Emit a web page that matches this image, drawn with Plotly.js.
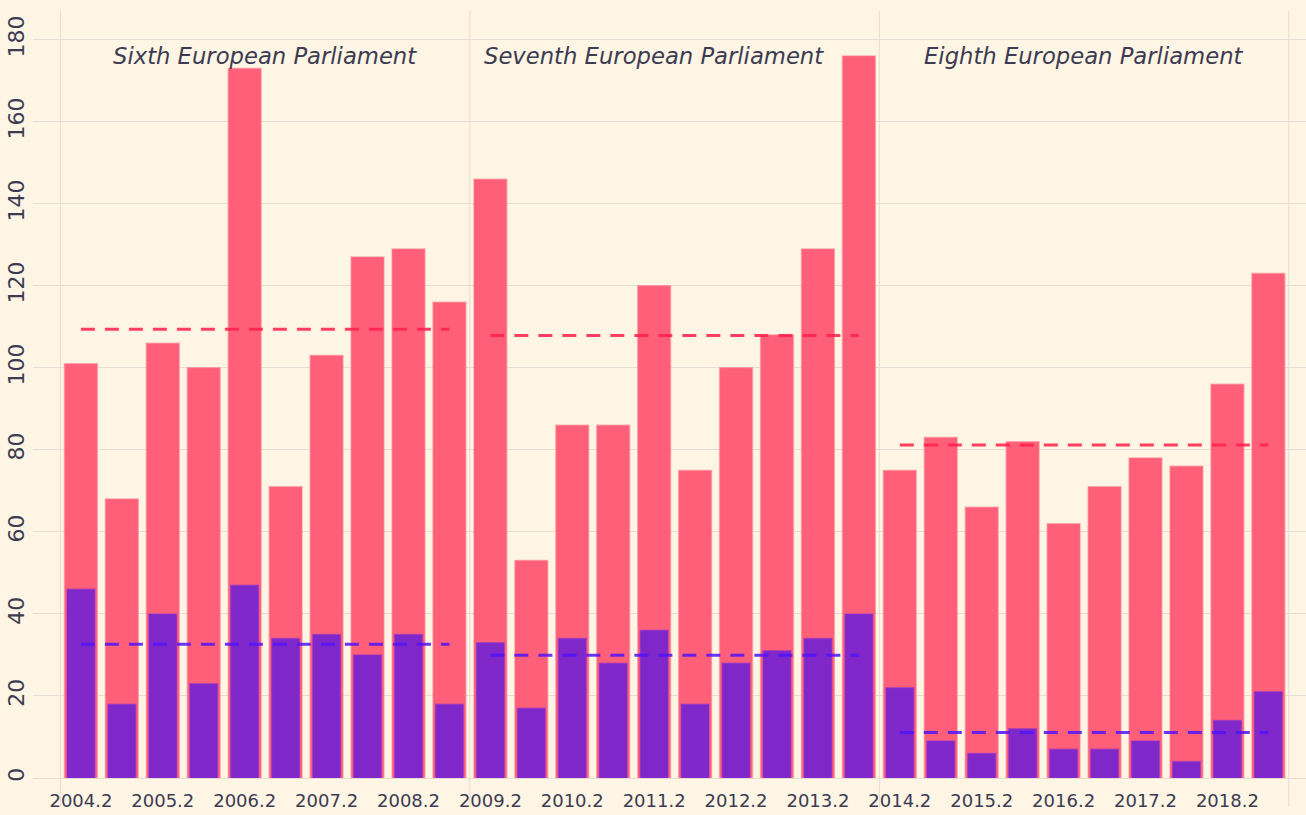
<!DOCTYPE html>
<html>
<head>
<meta charset="utf-8">
<script src="https://cdn.plot.ly/plotly-3.0.1.min.js"></script>
<style>html,body{margin:0;padding:0;background:#fef5e4;}#chart{width:1306px;height:815px;}</style>
</head>
<body>
<div id="chart"></div>
<script>
// Half-year periods
const periods = ['2004.2','2005.1','2005.2','2006.1','2006.2','2007.1','2007.2','2008.1','2008.2','2009.1',
                 '2009.2','2010.1','2010.2','2011.1','2011.2','2012.1','2012.2','2013.1','2013.2','2014.1',
                 '2014.2','2015.1','2015.2','2016.1','2016.2','2017.1','2017.2','2018.1','2018.2','2019.1'];
const totalValues = [101,68,106,100,173,71,103,127,129,116,
                     146,53,86,86,120,75,100,108,129,176,
                     75,83,66,82,62,71,78,76,96,123];
const subsetValues = [46,18,40,23,47,34,35,30,35,18,
                      33,17,34,28,36,18,28,31,34,40,
                      22,9,6,12,7,7,9,4,14,21];
const terms = ['Sixth European Parliament','Seventh European Parliament','Eighth European Parliament'];
const termStart = ['2004.2','2009.2','2014.2'];
const termEnd = ['2009.1','2014.1','2019.1'];
const totalMeans = [109.4,107.9,81.2];
const subsetMeans = [32.6,29.9,11.1];
const tickLabels = ['2004.2','2005.2','2006.2','2007.2','2008.2','2009.2','2010.2','2011.2','2012.2','2013.2','2014.2','2015.2','2016.2','2017.2','2018.2'];
const termLabelX = [4.5,14,24.5];
const termLabelY = [176,176,176];
const separators = [-0.5,9.5,19.5,29.5];

const textColor = '#3c3b52';
const gridColor = '#e8dcd4';
const fontFam = 'DejaVu Sans, sans-serif';

function meanLine(means, color){
  const xs=[], ys=[];
  for(let i=0;i<means.length;i++){
    xs.push(termStart[i], termEnd[i], null);
    ys.push(means[i], means[i], null);
  }
  return {type:'scatter', mode:'lines', x:xs, y:ys, connectgaps:false,
          line:{color:color, width:3, dash:'14px,10px'}, hoverinfo:'skip', showlegend:false};
}

const traces = [
  {type:'bar', x:periods, y:totalValues, width:0.8,
   marker:{color:'#ff5f78', line:{color:'rgba(255,120,140,0.55)', width:1.5}}, showlegend:false},
  {type:'bar', x:periods, y:subsetValues, width:0.68,
   marker:{color:'#7f27c9', line:{color:'rgba(140,50,210,0.5)', width:1.5}}, showlegend:false},
  meanLine(totalMeans, 'rgba(255,30,75,0.85)'),
  meanLine(subsetMeans, 'rgba(80,20,250,0.85)')
];

const shapes = separators.map(s => ({type:'line', xref:'x', yref:'paper', x0:s, x1:s, y0:-0.038, y1:1,
  line:{color:gridColor, width:1}, layer:'below'}));

const annotations = terms.map((t,i)=>({x:termLabelX[i], y:termLabelY[i], xref:'x', yref:'y', text:'<i>'+t+'</i>',
  showarrow:false, xanchor:'center', yanchor:'middle', font:{family:fontFam, size:22.7, color:textColor}}));

const layout = {
  width:1306, height:815,
  margin:{l:33, r:0, t:11, b:37},
  paper_bgcolor:'#fef5e4', plot_bgcolor:'#fef5e4',
  barmode:'overlay',
  showlegend:false,
  xaxis:{type:'category', categoryorder:'array', categoryarray:periods, range:[-1.17,29.92],
         tickmode:'array', tickvals:tickLabels, ticktext:tickLabels, showgrid:false, zeroline:false,
         ticks:'', ticklabelstandoff:10, tickfont:{family:fontFam, size:18, color:textColor}},
  yaxis:{range:[0,187], tickvals:[0,20,40,60,80,100,120,140,160,180], tickangle:-90,
         showgrid:true, gridcolor:gridColor, zeroline:true, zerolinecolor:gridColor, zerolinewidth:1,
         ticks:'', ticklabelstandoff:4, tickfont:{family:fontFam, size:22, color:textColor}},
  shapes:shapes,
  annotations:annotations
};

Plotly.newPlot('chart', traces, layout, {displayModeBar:false, staticPlot:true});
</script>
</body>
</html>
